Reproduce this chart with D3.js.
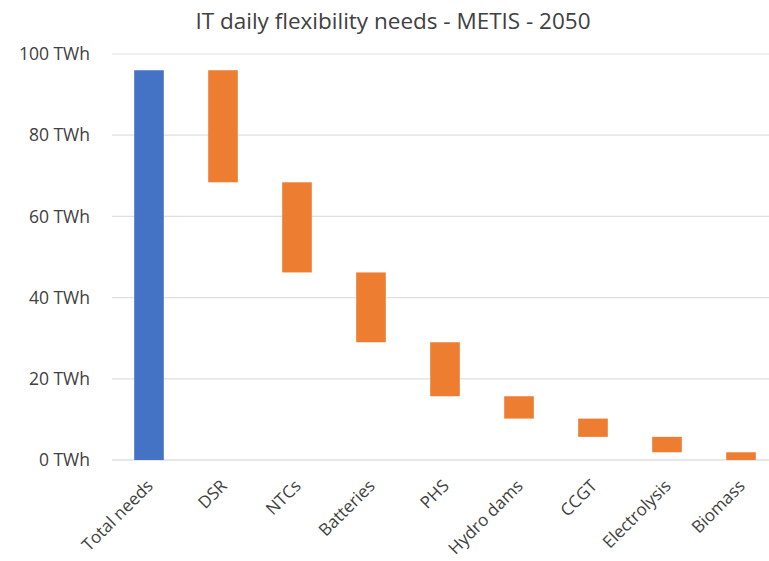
<!DOCTYPE html>
<html>
<head>
<meta charset="utf-8">
<script src="https://cdn.jsdelivr.net/npm/d3@7"></script>
<style>
  body { margin: 0; background: #fff; }
  svg { font-family: "Open Sans", "Liberation Sans", sans-serif; }
</style>
</head>
<body>
<svg id="chart"></svg>
<script>
const categories = ["Total needs", "DSR", "NTCs", "Batteries", "PHS", "Hydro dams", "CCGT", "Electrolysis", "Biomass"];
// floating bars: bottom and top of each bar (TWh)
const barBottom = [0, 68.4, 46.2, 29.0, 15.7, 10.2, 5.7, 1.9, 0];
const barTop = [96.0, 96.0, 68.4, 46.2, 29.0, 15.7, 10.2, 5.7, 1.9];
const yTicks = [0, 20, 40, 60, 80, 100];

const width = 769;
const height = 561;
const svg = d3.select("#chart").attr("width", width).attr("height", height);

const data = categories.map((c, i) => ({ cat: c, lo: barBottom[i], hi: barTop[i], total: i === 0 }));

const x = d3.scaleBand()
  .domain(categories)
  .range([112, 778])
  .paddingInner(0.6)
  .paddingOuter(0.3);

const y = d3.scaleLinear()
  .domain([0, 100])
  .range([460, 54]);

// gridlines
svg.append("g")
  .selectAll("line")
  .data(yTicks)
  .join("line")
  .attr("x1", 112)
  .attr("x2", width)
  .attr("y1", d => y(d))
  .attr("y2", d => y(d))
  .attr("stroke", d => d === 0 ? "#d0d0d0" : "#e0e0e0")
  .attr("stroke-width", 1.2);

// y axis labels
svg.append("g")
  .selectAll("text")
  .data(yTicks)
  .join("text")
  .attr("x", 90)
  .attr("y", d => y(d))
  .attr("dy", "0.35em")
  .attr("text-anchor", "end")
  .attr("font-size", 17.5)
  .attr("fill", "#404040")
  .text(d => `${d} TWh`);

// bars
svg.append("g")
  .selectAll("rect")
  .data(data)
  .join("rect")
  .attr("x", d => x(d.cat))
  .attr("y", d => y(d.hi))
  .attr("width", x.bandwidth())
  .attr("height", d => y(d.lo) - y(d.hi))
  .attr("fill", d => d.total ? "#4472C4" : "#ED7D31");

// category labels
svg.append("g")
  .selectAll("text")
  .data(categories)
  .join("text")
  .attr("transform", d => `translate(${x(d) + x.bandwidth() / 2 + 5}, 487) rotate(-45)`)
  .attr("text-anchor", "end")
  .attr("font-size", 17)
  .attr("fill", "#404040")
  .text(d => d);

// title
svg.append("text")
  .attr("x", 393)
  .attr("y", 29)
  .attr("text-anchor", "middle")
  .attr("font-size", 22.5)
  .attr("fill", "#404040")
  .text("IT daily flexibility needs - METIS - 2050");
</script>
</body>
</html>
